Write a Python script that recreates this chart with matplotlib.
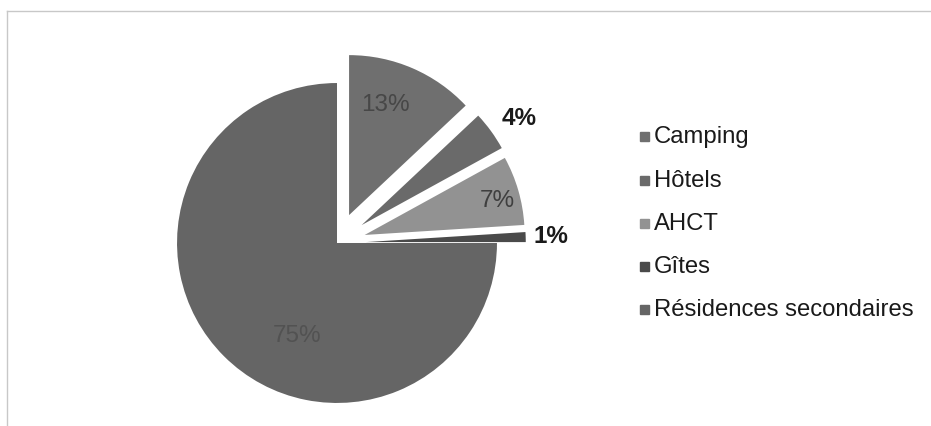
import matplotlib.pyplot as plt
from matplotlib.patches import Rectangle

plt.rcParams['font.family'] = ['Liberation Sans', 'DejaVu Sans']

# Données
categories = ['Camping', 'Hôtels', 'AHCT', 'Gîtes', 'Résidences secondaires']
parts = [13, 4, 7, 1, 75]
etiquettes = ['13%', '4%', '7%', '1%', '75%']
couleurs = ['#6f6f6f', '#6a6a6a', '#929292', '#4a4a4a', '#656565']
ecart = [0.19, 0.19, 0.18, 0.18, 0.0]

fig = plt.figure(figsize=(9.31, 4.26), dpi=100)
ax = fig.add_axes([129 / 931, 0, 464 / 931, 1])

wedges, _ = ax.pie(parts, colors=couleurs, explode=ecart, startangle=90,
                   counterclock=False, radius=1.0,
                   wedgeprops=dict(linewidth=0))
ax.set_xlim(-1.3, 1.6)
ax.set_ylim(-1.144, 1.519)
ax.set_aspect('equal')
ax.axis('off')

# étiquettes (positions en unités de rayon)
pos = [(0.30, 0.86), (1.14, 0.78), (1.00, 0.26), (1.34, 0.04), (-0.25, -0.58)]
styles = [('#474747', 'normal'), ('#1a1a1a', 'bold'), ('#3f3f3f', 'normal'),
          ('#1a1a1a', 'bold'), ('#525252', 'normal')]
for lab, (x, y), (c, w) in zip(etiquettes, pos, styles):
    ax.text(x, y, lab, ha='center', va='center', fontsize=17.5,
            color=c, fontweight=w)

# légende
ys = [137, 181, 224, 267, 310]
for cat, col, y in zip(categories, couleurs, ys):
    fy = 1 - y / 426
    fig.patches.append(Rectangle((640 / 931, fy - 4 / 426), 9 / 931, 9 / 426,
                                 transform=fig.transFigure, color=col))
    fig.text(654 / 931, fy, cat, fontsize=17.2, color='#1a1a1a', va='center')

# cadre
fig.add_artist(plt.Line2D([7 / 931, 7 / 931], [0, 1 - 11 / 426],
                          transform=fig.transFigure, color='#c8c8c8', lw=1))
fig.add_artist(plt.Line2D([7 / 931, 1], [1 - 11 / 426, 1 - 11 / 426],
                          transform=fig.transFigure, color='#c8c8c8', lw=1))

fig.savefig('out.png', dpi=100)
